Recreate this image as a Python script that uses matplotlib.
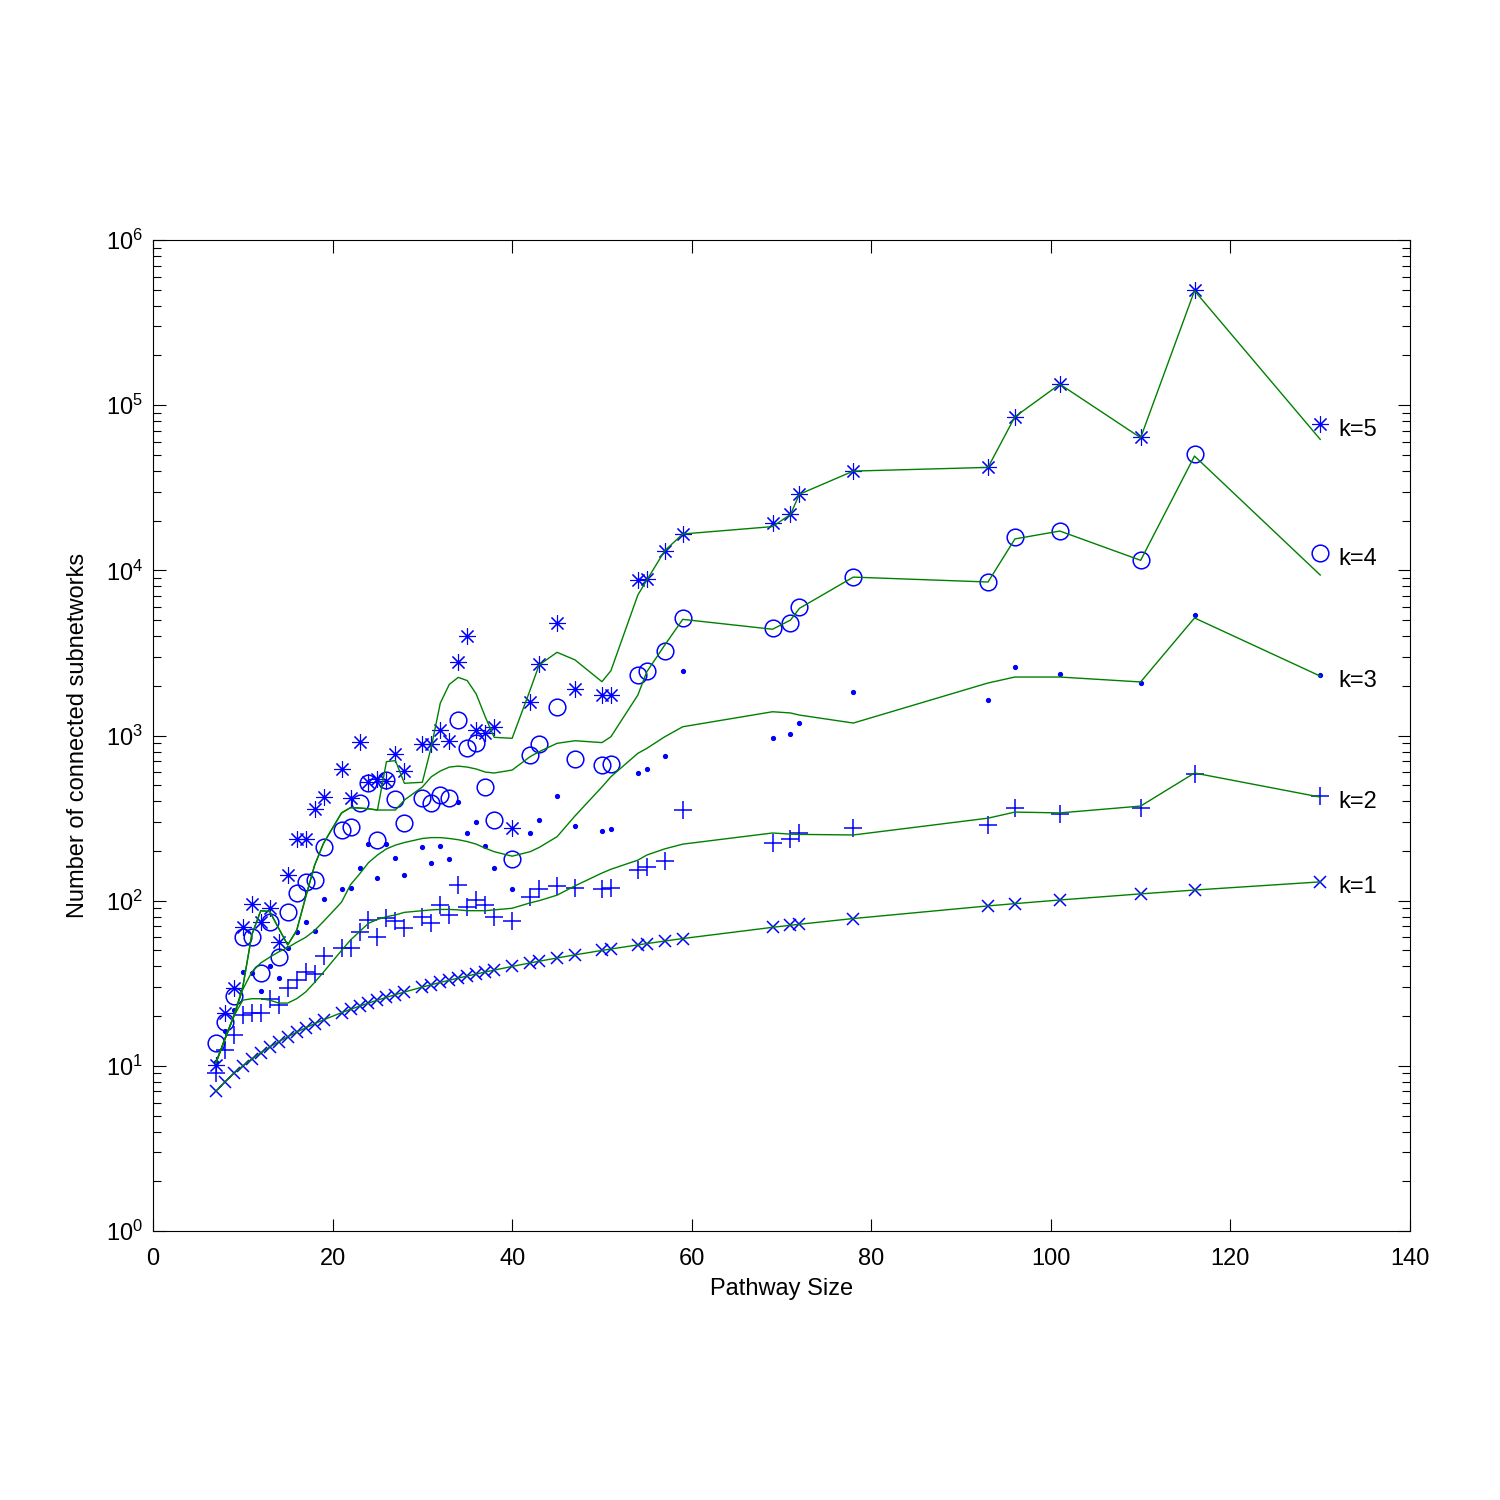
import matplotlib
matplotlib.use('Agg')
import matplotlib.pyplot as plt
from matplotlib.ticker import FixedLocator, FixedFormatter

plt.rcParams['font.family'] = ['Liberation Sans', 'DejaVu Sans']
plt.rcParams['mathtext.fontset'] = 'custom'
plt.rcParams['mathtext.rm'] = 'Liberation Sans'
plt.rcParams['mathtext.default'] = 'regular'

# pathway sizes
sizes = [7, 8, 9, 10, 11, 12, 13, 14, 15, 16, 17, 18, 19, 21, 22, 23, 24, 25, 26, 27, 28,
         30, 31, 32, 33, 34, 35, 36, 37, 38, 40, 42, 43, 45, 47, 50, 51, 54, 55, 57, 59,
         69, 71, 72, 78, 93, 96, 101, 110, 116, 130]

# number of connected subnetworks, per k (markers)
k1 = [7, 8, 9, 10, 11, 12, 13, 14, 15, 16, 17, 18, 19, 21, 22, 23, 24, 25, 26, 27, 28,
      30, 31, 32, 33, 34, 35, 36, 37, 38, 40, 42, 43, 45, 47, 50, 51, 54, 55, 57, 59,
      69, 71, 72, 78, 93, 96, 101, 110, 116, 130]
k2 = [9.0, 12.5, 15.4, 20.3, 20.8, 20.8, 25.3, 23.5, 29.5, 33, 37, 36, 46, 51.5, 51.5, 65, 76, 60, 79, 75, 68,
      80, 73, 94, 82, 124, 92, 101, 94, 80, 75, 106, 118, 123, 119, 117, 119, 153, 161, 175, 354,
      224, 235, 256, 275, 287, 364, 335, 364, 585, 430]
k3 = [10.5, 16.3, 21.8, 37, 36.6, 28.4, 40.4, 34.2, 51.9, 64.9, 74, 65.5, 102, 118, 120, 158, 219, 137, 219, 182, 144,
      210, 170, 214, 179, 394, 256, 298, 214, 157, 118, 256, 308, 430, 284, 266, 271, 590, 627, 751, 2457,
      961, 1017, 1195, 1833, 1640, 2600, 2357, 2080, 5360, 2323]
k4 = [13.8, 18.5, 26.5, 60.5, 60.5, 36.3, 74.6, 45.4, 85.8, 111, 130, 133, 210, 268, 278, 390, 515, 232, 537, 412, 294,
      417, 388, 436, 417, 1241, 840, 900, 488, 308, 180, 763, 884, 1494, 724, 660, 672, 2323, 2457, 3250, 5126,
      4496, 4777, 6025, 9120, 8490, 15900, 17300, 11500, 50600, 12700]
k5 = [10.1, 20.8, 29.5, 69.5, 95, 74.6, 90, 56.5, 143, 236, 236, 357, 423, 624, 417, 916, 520, 545, 530, 769, 612,
      888, 888, 1080, 926, 2800, 4020, 1080, 1030, 1130, 274, 1600, 2710, 4780, 1910, 1760, 1760, 8730, 8820, 13150, 16600,
      19300, 21800, 28900, 39900, 42300, 84700, 134000, 64200, 498000, 76900]

# smoothed trend lines (green)
fit1 = [7, 8, 9, 10, 11, 12, 13, 14, 15, 16, 17, 18, 19, 21, 22, 23, 24, 25, 26, 27, 28,
        30, 31, 32, 33, 34, 35, 36, 37, 38, 40, 42, 43, 45, 47, 50, 51, 54, 55, 57, 59,
        69, 71, 72, 78, 93, 96, 101, 110, 116, 130]
fit2 = [10.4, 14.5, 20, 25, 25.5, 25.5, 25, 24, 24, 25.5, 28, 32, 37, 50, 57.8, 65, 73, 77, 80, 82, 85,
        87, 88, 88.5, 88.5, 88, 87, 87, 87, 88, 90, 97, 100, 108, 123, 147, 155, 176, 189, 206, 220,
        257, 253, 252, 250, 316, 344, 340, 374, 593, 424]
fit3 = [10.4, 14.5, 20, 29, 37, 42, 45.5, 49, 52, 56, 60, 66, 75, 98, 125, 145, 170, 189, 206, 217, 225,
        238, 241, 241, 238, 234, 228, 220, 208, 198, 186, 198, 210, 244, 326, 488, 563, 780, 836, 983, 1130,
        1393, 1370, 1330, 1190, 2080, 2260, 2260, 2110, 5150, 2290]
fit4 = [10.4, 14.5, 20, 30, 62, 87, 86, 68, 54, 66, 105, 164, 223, 340, 366, 364, 360, 354, 354, 354, 407,
        488, 563, 610, 644, 653, 644, 627, 601, 593, 618, 745, 798, 897, 930, 906, 983, 1758, 2432, 3530, 5050,
        4400, 5000, 5890, 9100, 8500, 15500, 17300, 11500, 49200, 9370]
fit5 = [10.4, 14.5, 20, 30, 62, 87, 86, 68, 54, 66, 105, 164, 223, 340, 366, 364, 360, 354, 695, 705, 514,
        521, 855, 1573, 2040, 2250, 2150, 1783, 1300, 975, 962, 1885, 2670, 3190, 2870, 2118, 2468, 7090, 8730, 13150, 16600,
        18400, 21800, 28900, 39900, 42000, 85100, 134000, 63500, 493000, 62100]

# label, marker values, trend values, marker, size, edge width
series = [
    ('k=1', k1, fit1, 'x', 9, 1.1),
    ('k=2', k2, fit2, '+', 13, 1.1),
    ('k=3', k3, fit3, '.', 5.5, 1.0),
    ('k=4', k4, fit4, 'o', 12, 1.1),
    ('k=5', k5, fit5, (8, 2, 0), 12, 0.8),
]

fig = plt.figure(figsize=(15, 15), dpi=100)
ax = fig.add_axes([0.102, 0.1793, 0.838, 0.6607])

blue = (0, 0, 1)
green = (0, 0.5, 0)

for label, vals, fit, marker, ms, mew in series:
    ax.plot(sizes, vals, linestyle='none', marker=marker, markersize=ms,
            markerfacecolor='none' if marker != '.' else blue,
            markeredgecolor=blue, markeredgewidth=mew, zorder=2)
    ax.plot(sizes, fit, color=green, linewidth=1.0, zorder=3)
    ax.annotate(label, (132, vals[-1]), xytext=(0, -4), textcoords='offset points',
                fontsize=17, va='center', ha='left')

ax.set_yscale('log')
ax.set_xlim(0, 140)
ax.set_ylim(1, 1e6)

ax.xaxis.set_major_locator(FixedLocator(range(0, 141, 20)))
ax.yaxis.set_major_locator(FixedLocator([10 ** i for i in range(7)]))
ax.yaxis.set_major_formatter(FixedFormatter(['$10^{%d}$' % i for i in range(7)]))
minors = [m * 10 ** i for i in range(6) for m in range(2, 10)]
ax.yaxis.set_minor_locator(FixedLocator(minors))
ax.xaxis.set_minor_locator(FixedLocator([]))

ax.tick_params(which='both', direction='in', top=True, right=True, labelsize=17, width=0.8)
ax.tick_params(which='major', length=9)
ax.tick_params(which='minor', length=6)
ax.tick_params(axis='x', pad=12)
ax.tick_params(axis='y', pad=7)

for s in ax.spines.values():
    s.set_linewidth(0.8)

ax.set_xlabel('Pathway Size', fontsize=17, labelpad=6)
ax.set_ylabel('Number of connected subnetworks', fontsize=17, labelpad=12)

fig.savefig('out.png', dpi=100)
